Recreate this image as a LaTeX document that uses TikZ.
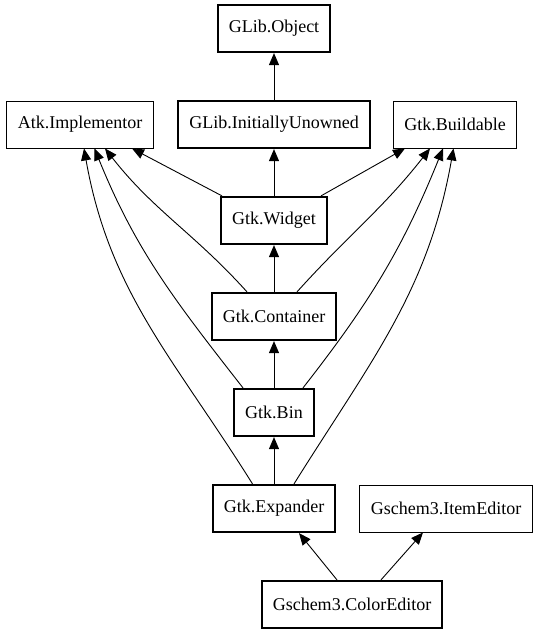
\documentclass[tikz,border=0pt]{standalone}
\usepackage{fontspec}
\setmainfont{Liberation Serif}
\usetikzlibrary{arrows.meta}
\usetikzlibrary{positioning}

\begin{document}
\begin{tikzpicture}[x=1pt,y=1pt,
    edge/.style={-{Triangle[length=12pt,width=10pt]},line width=0.9pt},
    class node/.style={rectangle,draw,line width=2.2pt,minimum height=47pt,inner xsep=11pt,font=\fontsize{18}{20}\selectfont},
    iface node/.style={class node,line width=0.9pt}]
\useasboundingbox (0,0) rectangle (539,635);

            \node[class node] (obj) at (274,606.5) {GLib.Object};
            \node[iface node] (atk) at (80,510.5) {Atk.Implementor};
            \node[class node] (unowned) at (274,510.5) {GLib.InitiallyUnowned};
            \node[iface node] (build) at (455,510.5) {Gtk.Buildable};
            \node[class node] (widget) at (274,414.5) {Gtk.Widget};
            \node[class node] (cont) at (274,318.5) {Gtk.Container};
            \node[class node] (bin) at (274,222.5) {Gtk.Bin};
            \node[class node] (exp) at (274,126.5) {Gtk.Expander};
            \node[iface node] (item) at (446,126.5) {Gschem3.ItemEditor};
            \node[class node] (color) at (352,30.5) {Gschem3.ColorEditor};

            % main chain
            \draw[edge] (unowned) -- (obj);
            \draw[edge] (widget) -- (unowned);
            \draw[edge] (cont) -- (widget);
            \draw[edge] (bin) -- (cont);
            \draw[edge] (exp) -- (bin);

            % interfaces
            \draw[edge] ([xshift=-52]widget.north) -- ([xshift=52]atk.south);
            \draw[edge] ([xshift=-27]cont.north) to[out=132,in=-52] ([xshift=25]atk.south);
            \draw[edge] ([xshift=-31]bin.north) to[out=128,in=-68] ([xshift=14.5]atk.south);
            \draw[edge] ([xshift=-21.5]exp.north) to[out=122,in=-80] ([xshift=4]atk.south);

            \draw[edge] ([xshift=47]widget.north) -- ([xshift=-50]build.south);
            \draw[edge] ([xshift=23]cont.north) to[out=48,in=-128] ([xshift=-25]build.south);
            \draw[edge] ([xshift=29]bin.north) to[out=52,in=-112] ([xshift=-12]build.south);
            \draw[edge] ([xshift=20]exp.north) to[out=58,in=-100] ([xshift=-1.5]build.south);

            \draw[edge] ([xshift=-15]color.north) -- ([xshift=25]exp.south);
            \draw[edge] ([xshift=29]color.north) -- ([xshift=-23]item.south);

\end{tikzpicture}
\end{document}
